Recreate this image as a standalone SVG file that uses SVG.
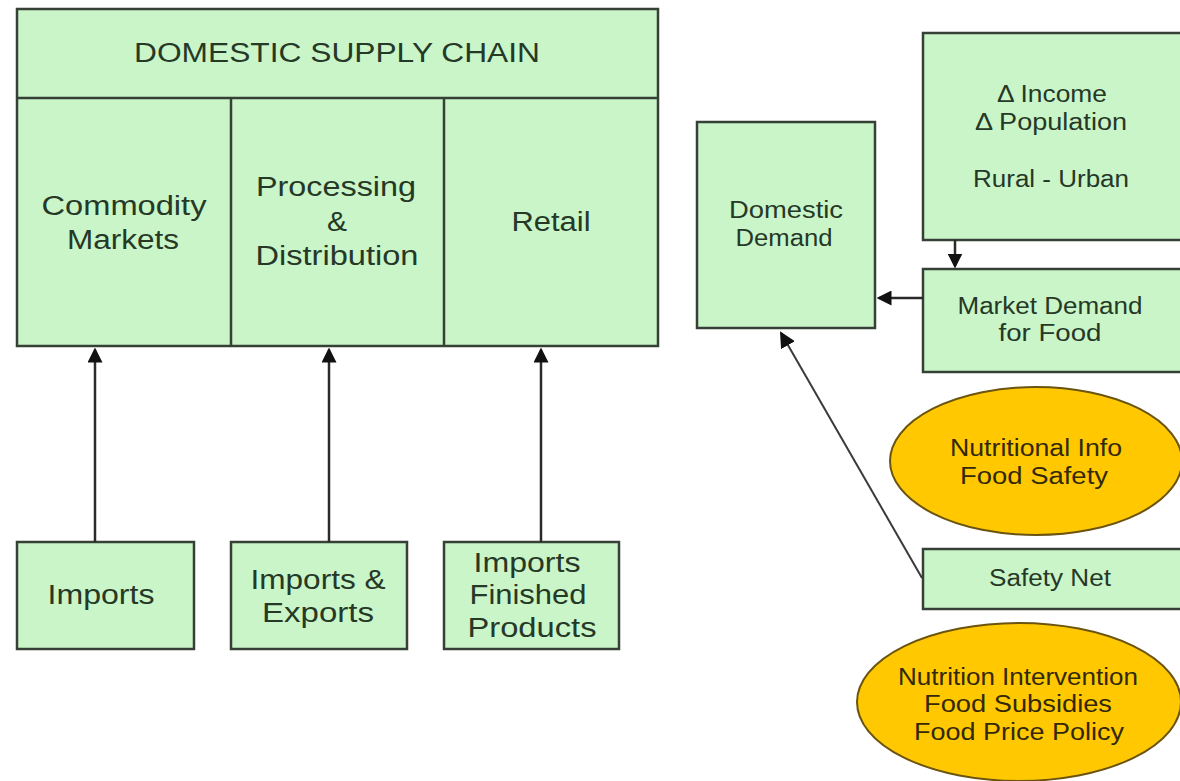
<svg xmlns="http://www.w3.org/2000/svg" width="1180" height="781" viewBox="0 0 1180 781">
<style>
.box{fill:#c9f5c9;stroke:#364036;stroke-width:2.5}
.ell{fill:#ffc800;stroke:#6a5410;stroke-width:2}
.t{font-family:"Liberation Sans",Arial,sans-serif;fill:#263826;text-anchor:middle;dominant-baseline:central}
.L{font-size:27px}
.R{font-size:23px}
.y{fill:#33290a}
.c{stroke:#2a2a2a;stroke-width:2.5;fill:none}
.c2{stroke:#3a3a3a;stroke-width:2;fill:none}
</style>
<defs>
<marker id="ah" markerWidth="6" markerHeight="6" refX="5" refY="3" orient="auto" markerUnits="strokeWidth">
<path d="M0,0 L6,3 L0,6 Z" fill="#111"/>
</marker>
<marker id="ah2" markerWidth="8" markerHeight="8" refX="7" refY="4" orient="auto" markerUnits="strokeWidth">
<path d="M0,0 L8,4 L0,8 Z" fill="#111"/>
</marker>
</defs>
<rect width="1180" height="781" fill="#fff"/>

<g id="supply-chain">
<rect class="box" x="17" y="9" width="641" height="337"/>
<line x1="17" y1="98" x2="658" y2="98" stroke="#364036" stroke-width="2.5"/>
<line x1="231" y1="98" x2="231" y2="346" stroke="#364036" stroke-width="2.5"/>
<line x1="444" y1="98" x2="444" y2="346" stroke="#364036" stroke-width="2.5"/>
<text class="t L" x="337" y="53" textLength="406" lengthAdjust="spacingAndGlyphs">DOMESTIC SUPPLY CHAIN</text>
</g>
<g id="commodity-markets">
<text class="t L" x="124" y="206" textLength="165" lengthAdjust="spacingAndGlyphs">Commodity</text>
<text class="t L" x="123" y="240" textLength="112" lengthAdjust="spacingAndGlyphs">Markets</text>
</g>
<g id="processing">
<text class="t L" x="336" y="187" textLength="160" lengthAdjust="spacingAndGlyphs">Processing</text>
<text class="t L" x="337" y="222" textLength="20" lengthAdjust="spacingAndGlyphs">&amp;</text>
<text class="t L" x="337" y="256" textLength="163" lengthAdjust="spacingAndGlyphs">Distribution</text>
</g>
<g id="retail">
<text class="t L" x="551" y="222" textLength="79" lengthAdjust="spacingAndGlyphs">Retail</text>
</g>

<g id="imports">
<rect class="box" x="17" y="542" width="177" height="107"/>
<text class="t L" x="101" y="595" textLength="107" lengthAdjust="spacingAndGlyphs">Imports</text>
</g>
<g id="imports-exports">
<rect class="box" x="231" y="542" width="176" height="107"/>
<text class="t L" x="318" y="580" textLength="135" lengthAdjust="spacingAndGlyphs">Imports &amp;</text>
<text class="t L" x="318" y="613" textLength="112" lengthAdjust="spacingAndGlyphs">Exports</text>
</g>
<g id="imports-finished">
<rect class="box" x="444" y="542" width="175" height="107"/>
<text class="t L" x="527" y="563" textLength="107" lengthAdjust="spacingAndGlyphs">Imports</text>
<text class="t L" x="528" y="595" textLength="117" lengthAdjust="spacingAndGlyphs">Finished</text>
<text class="t L" x="532" y="628" textLength="129" lengthAdjust="spacingAndGlyphs">Products</text>
</g>

<g id="domestic-demand">
<rect class="box" x="697" y="122" width="178" height="206"/>
<text class="t R" x="786" y="210" textLength="114" lengthAdjust="spacingAndGlyphs">Domestic</text>
<text class="t R" x="784" y="238" textLength="97" lengthAdjust="spacingAndGlyphs">Demand</text>
</g>
<g id="income">
<rect class="box" x="923" y="33" width="262" height="207"/>
<text class="t R" x="1052" y="94" textLength="110" lengthAdjust="spacingAndGlyphs">Δ Income</text>
<text class="t R" x="1051" y="122" textLength="152" lengthAdjust="spacingAndGlyphs">Δ Population</text>
<text class="t R" x="1051" y="179" textLength="156" lengthAdjust="spacingAndGlyphs">Rural - Urban</text>
</g>
<g id="market-demand">
<rect class="box" x="923" y="269" width="262" height="103"/>
<text class="t R" x="1050" y="306" textLength="185" lengthAdjust="spacingAndGlyphs">Market Demand</text>
<text class="t R" x="1050" y="333" textLength="103" lengthAdjust="spacingAndGlyphs">for Food</text>
</g>
<g id="nutritional-info">
<ellipse class="ell" cx="1036" cy="461" rx="146" ry="74"/>
<text class="t R y" x="1036" y="448" textLength="172" lengthAdjust="spacingAndGlyphs">Nutritional Info</text>
<text class="t R y" x="1034" y="476" textLength="148" lengthAdjust="spacingAndGlyphs">Food Safety</text>
</g>
<g id="safety-net">
<rect class="box" x="923" y="549" width="262" height="60"/>
<text class="t R" x="1050" y="578" textLength="122" lengthAdjust="spacingAndGlyphs">Safety Net</text>
</g>
<g id="nutrition-intervention">
<ellipse class="ell" cx="1019" cy="702" rx="162" ry="79"/>
<text class="t R y" x="1018" y="677" textLength="240" lengthAdjust="spacingAndGlyphs">Nutrition Intervention</text>
<text class="t R y" x="1018" y="704" textLength="188" lengthAdjust="spacingAndGlyphs">Food Subsidies</text>
<text class="t R y" x="1019" y="732" textLength="210" lengthAdjust="spacingAndGlyphs">Food Price Policy</text>
</g>

<g id="connectors">
<line class="c" x1="95" y1="542" x2="95" y2="350" marker-end="url(#ah)"/>
<line class="c" x1="329" y1="542" x2="329" y2="350" marker-end="url(#ah)"/>
<line class="c" x1="541" y1="542" x2="541" y2="350" marker-end="url(#ah)"/>
<line class="c" x1="955" y1="240" x2="955" y2="266" marker-end="url(#ah)"/>
<line class="c" x1="923" y1="298" x2="879" y2="298" marker-end="url(#ah)"/>
<line class="c2" x1="922" y1="578" x2="781" y2="333" marker-end="url(#ah2)"/>
</g>
</svg>
